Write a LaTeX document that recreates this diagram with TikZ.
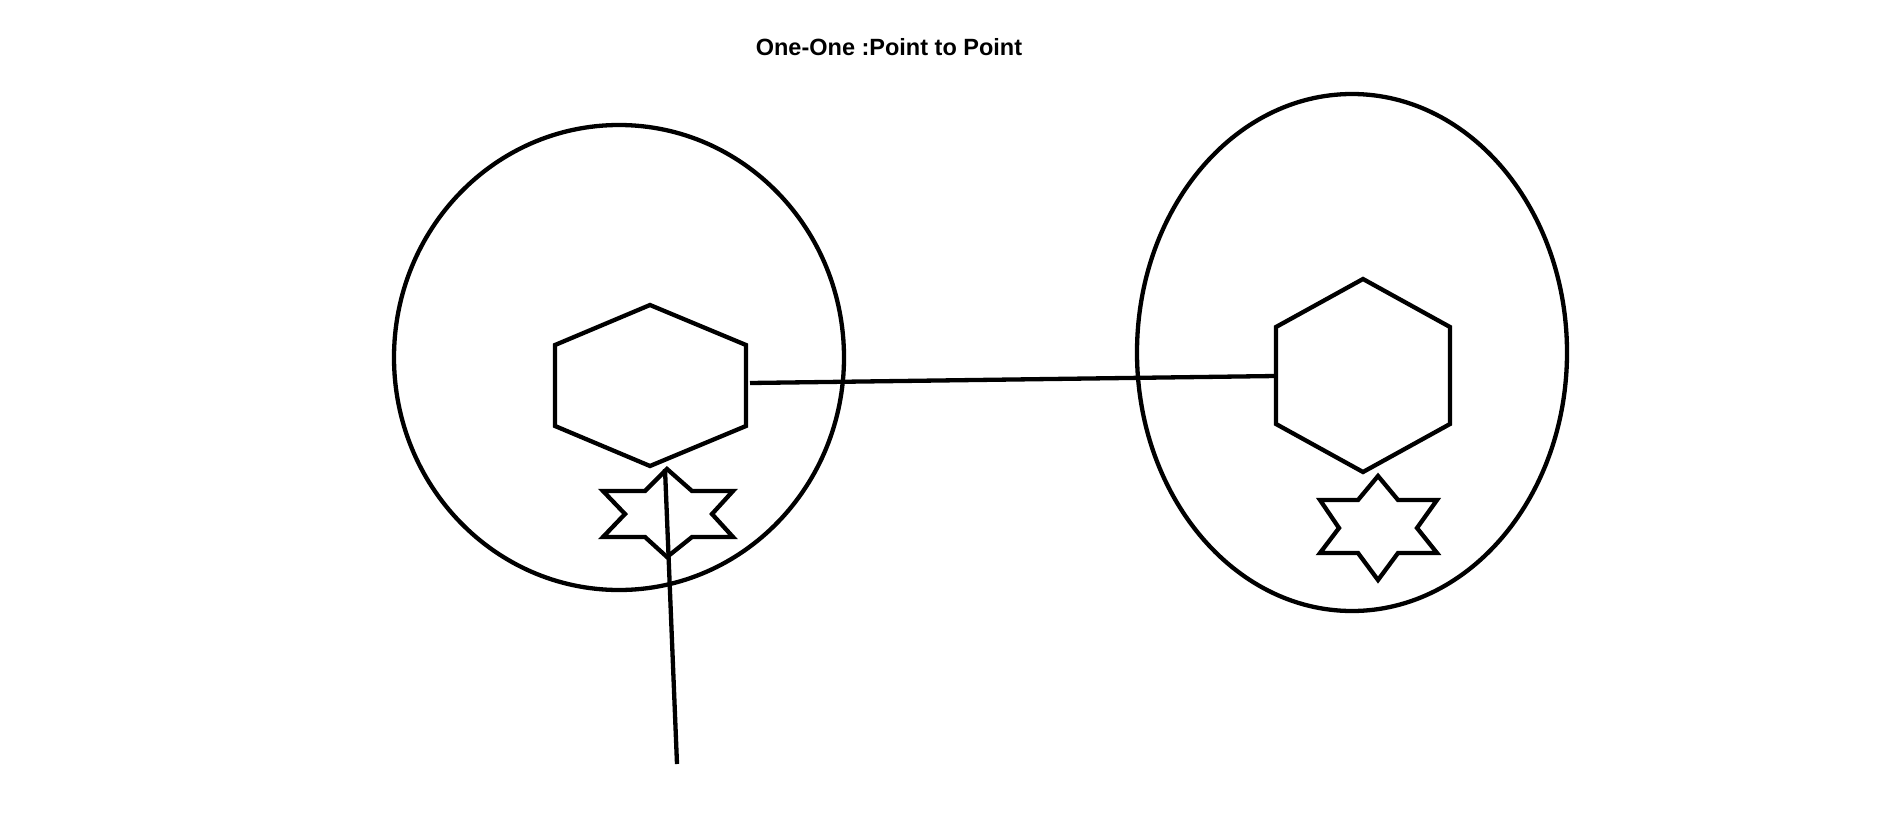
\documentclass[tikz,border=0pt]{standalone}
\usepackage{fontspec}
\setmainfont{Liberation Sans}
\begin{document}
\begin{tikzpicture}[x=1pt,y=-1pt,
  shape line/.style={line width=4.3pt,black},
  link/.style={line width=4.3pt,black,line cap=butt},
  title text/.style={font=\fontsize{23.5}{28}\selectfont\bfseries,anchor=base,inner sep=0pt}]
\useasboundingbox[fill=white] (0,0) rectangle (1901,822);
\node[title text] (title) at (889,55) {One-One :Point to Point};
% enclosing circles
\draw[shape line] (619,357.5) ellipse [x radius=225, y radius=232.5];
\draw[shape line] (1352,352.5) ellipse [x radius=215, y radius=258.5];
% left hexagon
\draw[shape line] (650,305) -- (746,345) -- (746,426) -- (650,466) -- (555,426) -- (555,345) -- cycle;
% right hexagon
\draw[shape line] (1363,279) -- (1450,327) -- (1450,424) -- (1363,472) -- (1276,424) -- (1276,327) -- cycle;
% left star
\draw[shape line] (667,469) -- (692,491) -- (733,491) -- (712,514) -- (733,537) -- (692,537) -- (667,557) -- (645,537) -- (603,537) -- (625,514) -- (603,491) -- (645,491) -- cycle;
% right star
\draw[shape line] (1378,476) -- (1398,500) -- (1437,500) -- (1417,528) -- (1437,553) -- (1398,553) -- (1378,580) -- (1358,553) -- (1320,553) -- (1339,528) -- (1320,500) -- (1358,500) -- cycle;
% connector end points
\coordinate (hexAout) at (750,383);
\coordinate (hexBin) at (1276,376);
\coordinate (starAtop) at (665,469);
\coordinate (freeEnd) at (677,764);
\draw[link] (hexAout) -- (hexBin);
\draw[link] (starAtop) -- (freeEnd);
\end{tikzpicture}
\end{document}
